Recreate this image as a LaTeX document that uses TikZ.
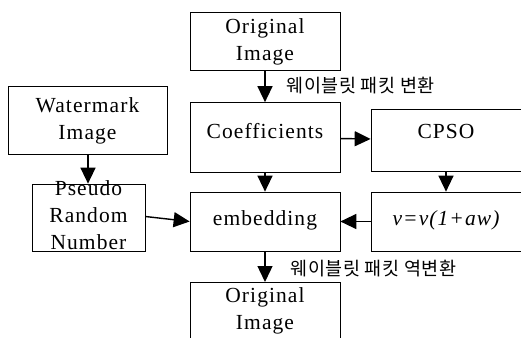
\documentclass[tikz,border=0pt]{standalone}
\usepackage{fontspec}
\setmainfont{Liberation Serif}
\newfontfamily\kor{Noto Sans CJK KR}
\usetikzlibrary{arrows.meta}
\begin{document}
\begin{tikzpicture}[x=1pt,y=1pt,
  box/.style={draw, line width=0.7pt, inner sep=0pt},
  txt/.style={font=\fontsize{21.5}{27}\selectfont\addfontfeature{LetterSpace=5}, align=center},
  lbl/.style={font=\kor\fontsize{18.5}{20}\selectfont\addfontfeature{LetterSpace=3}, anchor=west},
  arr/.style={line width=1.4pt, -{Triangle[length=16pt,width=15pt]}}]
\useasboundingbox (0,0) rectangle (521,-337);
\clip (0,0) rectangle (521,-337);
\node[box, minimum width=150, minimum height=58] (orig) at (265,-41) {};
\node[txt] at (265,-42) {Original\\Image};
\node[box, minimum width=159, minimum height=68] (wm) at (87.5,-120) {};
\node[txt] at (87.5,-121) {Watermark\\Image};
\node[box, minimum width=150, minimum height=70] (coef) at (265,-137.5) {};
\node[txt] at (265,-131) {Coefficients};
\node[box, minimum width=150, minimum height=62] (cpso) at (446,-140) {};
\node[txt] at (446,-131) {CPSO};
\node[box, minimum width=113, minimum height=67] (prn) at (88.5,-217.5) {};
\node[txt] at (88.5,-215) {Pseudo\\Random\\Number};
\node[box, minimum width=150, minimum height=59] (emb) at (265,-221.5) {};
\node[txt] at (265,-220) {embedding};
\node[box, minimum width=150, minimum height=59] (vf) at (446,-221.5) {};
\node[txt] at (446,-220) {\itshape v=v(1+aw)};
\node[box, minimum width=150, minimum height=80, anchor=north] (orig2) at (265,-282) {};
\node[txt, anchor=north] at (265,-284) {Original\\Image};
\draw[arr] (orig) -- (coef);
\node[lbl] (l1) at (283,-86) {웨이블릿 패킷 변환};
\draw[arr] (wm.south -| 88,0) -- (prn.north -| 88,0);
\draw[arr] (coef) -- (cpso);
\draw[arr] (coef) -- (emb);
\draw[arr] (cpso) -- (vf);
\draw[arr] (prn.east) ++(0,1) -- (emb.west);
\draw[arr] (vf) -- (emb);
\draw[arr] (emb) -- (orig2);
\node[lbl] (l2) at (287,-269) {웨이블릿 패킷 역변환};
\end{tikzpicture}
\end{document}
